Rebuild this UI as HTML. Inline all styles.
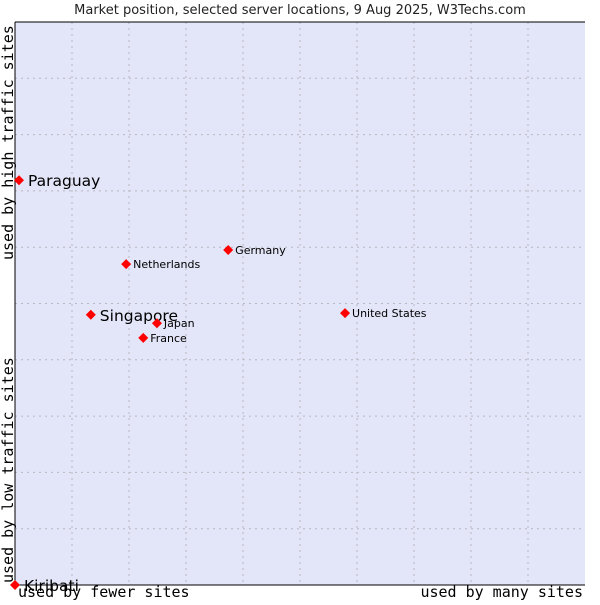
<!DOCTYPE html>
<html><head><meta charset="utf-8"><style>
body{margin:0;background:#fff;width:600px;height:600px;overflow:hidden}
svg{font-family:"DejaVu Sans","Liberation Sans",sans-serif}
</style></head><body>
<svg id="c" width="600" height="600">
<text x="300" y="14" text-anchor="middle" font-size="13" fill="#222">Market position, selected server locations, 9 Aug 2025, W3Techs.com</text>
<rect x="15" y="22" width="570" height="563" fill="#e3e5f8"/>
<g id="grid"></g>
<line x1="15" y1="22" x2="585" y2="22" stroke="#000"/>
<line x1="15" y1="22" x2="15" y2="585" stroke="#000"/>
<line x1="15" y1="585" x2="585" y2="585" stroke="#000"/>
<g font-family="DejaVu Sans Mono,Liberation Mono,monospace" font-size="15" fill="#000">
<text x="18" y="597">used by fewer sites</text>
<text x="583" y="597" text-anchor="end">used by many sites</text>
<text transform="translate(13,583) rotate(-90)">used by low traffic sites</text>
<text transform="translate(13,260) rotate(-90)">used by high traffic sites</text>
</g>
<g id="pts"></g>
</svg>
<script>
const names=["Paraguay","Singapore","Netherlands","Germany","United States","Japan","France","Kiribati"];
const xVals=[0.07,1.33,1.95,3.74,5.79,2.49,2.25,0];
const yVals=[7.19,4.80,5.70,5.95,4.83,4.65,4.39,0];
const big=[true,true,false,false,false,false,false,true];
const NS="http://www.w3.org/2000/svg";
const X=v=>15+v*57, Y=v=>585-v*56.3;
const grid=document.getElementById('grid');
for(let i=1;i<10;i++){
 let l=document.createElementNS(NS,'line');
 l.setAttribute('x1',X(i));l.setAttribute('x2',X(i));l.setAttribute('y1',22);l.setAttribute('y2',585);
 l.setAttribute('stroke','#b8b8c0');l.setAttribute('stroke-dasharray','2,4');
 
 
 grid.appendChild(l);
 let h=document.createElementNS(NS,'line');
 h.setAttribute('x1',15);h.setAttribute('x2',585);h.setAttribute('y1',Y(i));h.setAttribute('y2',Y(i));
 h.setAttribute('stroke','#b8b8c0');h.setAttribute('stroke-dasharray','2,4');
 
 
 grid.appendChild(h);
}
const pts=document.getElementById('pts');
names.forEach((n,i)=>{
 const x=X(xVals[i]),y=Y(yVals[i]);
 let p=document.createElementNS(NS,'polygon');
 p.setAttribute('points',`${x},${y-5} ${x+5},${y} ${x},${y+5} ${x-5},${y}`);
 p.setAttribute('fill','#f00');
 
 
 pts.appendChild(p);
 let t=document.createElementNS(NS,'text');
 t.setAttribute('x',x+(big[i]?9:7));t.setAttribute('y',y+(big[i]?6:4));
 t.setAttribute('font-size',big[i]?15.5:11);t.setAttribute('fill','#000');
 t.textContent=n;
 
 
 pts.appendChild(t);
});
</script>
</body></html>
